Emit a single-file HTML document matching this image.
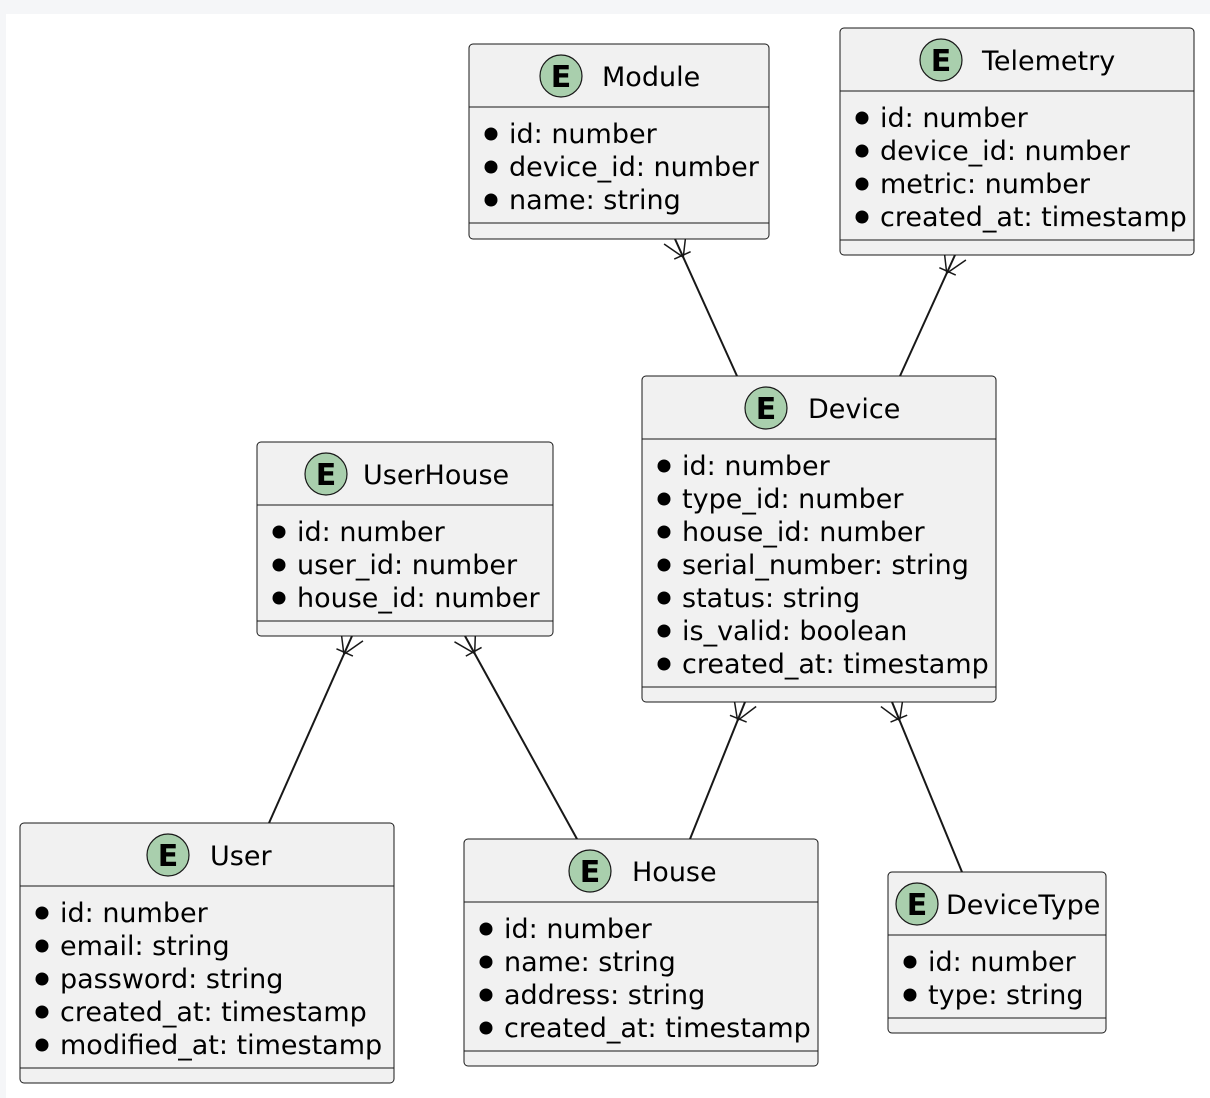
<!DOCTYPE html>
<html><head><meta charset="utf-8"><style>
html,body{margin:0;padding:0;background:#f5f6f8;}
svg{display:block}
text{font-family:"DejaVu Sans","Liberation Sans",sans-serif;fill:#000}
</style></head><body>
<svg id="s" width="1210" height="1098" xmlns="http://www.w3.org/2000/svg">
<rect x="6" y="14" width="1204" height="1084" fill="#fff"/>
<g id="g"></g>
</svg>
<script>
const ns="http://www.w3.org/2000/svg",g=document.getElementById('g');
function el(t,a,txt){const e=document.createElementNS(ns,t);for(const k in a)e.setAttribute(k,a[k]);if(txt)e.textContent=txt;g.appendChild(e);return e;}
function ent(x1,y1,x2,y2,cx,tx,title,attrs){
 el('rect',{x:x1,y:y1,width:x2-x1,height:y2-y1,rx:4,fill:'#f1f1f1',stroke:'#181818','stroke-width':1});
 const cy=y1+32;
 el('circle',{cx:cx,cy:cy,r:21,fill:'#a9cfad',stroke:'#181818','stroke-width':1.2});
 el('text',{x:cx,y:cy+11,'font-size':30,'font-weight':'bold','text-anchor':'middle'},'E');
 el('text',{x:tx,y:cy+10,'font-size':27},title);
 const hl=y1+63;
 el('line',{x1:x1,y1:hl,x2:x2,y2:hl,stroke:'#181818','stroke-width':1});
 attrs.forEach((a,i)=>{const c=hl+26+33*i;
  el('circle',{cx:x1+22,cy:c+1,r:6.5,fill:'#000'});
  el('text',{x:x1+40,y:c+10,'font-size':27},a);});
 const bl=hl+26+33*(attrs.length-1)+24;
 el('line',{x1:x1,y1:bl,x2:x2,y2:bl,stroke:'#181818','stroke-width':1});
}
function conn(ax,ay,bx,by){
 el('line',{x1:ax,y1:ay,x2:bx,y2:by,stroke:'#181818','stroke-width':2});
 const dx=bx-ax,dy=by-ay,L=Math.hypot(dx,dy),ux=dx/L,uy=dy/L,px=-uy,py=ux;
 const fx=ax+ux*20,fy=ay+uy*20;
 [-12,12].forEach(s=>el('line',{x1:fx,y1:fy,x2:ax+px*s,y2:ay+py*s,stroke:'#181818','stroke-width':1.5}));
 const bx2=ax+ux*18,by2=ay+uy*18;
 el('line',{x1:bx2+px*9,y1:by2+py*9,x2:bx2-px*9,y2:by2-py*9,stroke:'#181818','stroke-width':1.5});
}
conn(675,239,737,376);
conn(955,255,900,376);
conn(352,636,269,823);
conn(465,636,577,839);
conn(745,702,690,839);
conn(892,702,962,872);
ent(469,44,769,239,561,602,'Module',['id: number','device_id: number','name: string']);
ent(840,28,1194,255,941,982,'Telemetry',['id: number','device_id: number','metric: number','created_at: timestamp']);
ent(642,376,996,702,766,808,'Device',['id: number','type_id: number','house_id: number','serial_number: string','status: string','is_valid: boolean','created_at: timestamp']);
ent(257,442,553,636,326,363,'UserHouse',['id: number','user_id: number','house_id: number']);
ent(20,823,394,1083,168,210,'User',['id: number','email: string','password: string','created_at: timestamp','modified_at: timestamp']);
ent(464,839,818,1066,590,632,'House',['id: number','name: string','address: string','created_at: timestamp']);
ent(888,872,1106,1033,917,946,'DeviceType',['id: number','type: string']);
</script>
</body></html>
